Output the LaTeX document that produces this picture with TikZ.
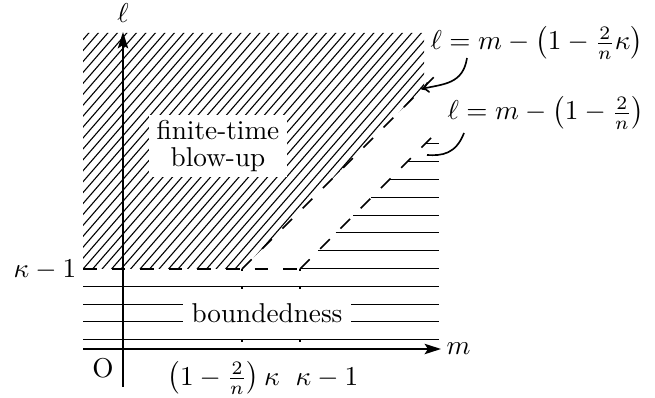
\documentclass[tikz,border=0pt]{standalone}
\usetikzlibrary{arrows.meta}
\begin{document}
\begin{tikzpicture}[x=0.367pt,y=-0.367pt,
  axisline/.style={line width=0.7pt,-{Stealth[length=6pt,width=3.8pt,inset=1.2pt]}},
  hatchline/.style={line width=0.4pt},
  hline/.style={line width=0.4pt},
  boundline/.style={line width=0.6pt,dash pattern=on 5pt off 5.5pt},
  guideline/.style={line width=0.7pt,dash pattern=on 0.7pt off 5.8pt},
  lblbox/.style={fill=white,inner xsep=3pt,inner ysep=2pt,align=center},
  txt/.style={inner sep=0pt},
  callout/.style={line width=0.6pt}]
\useasboundingbox (0,0) rectangle (655,398);
% key points
\coordinate (O0) at (123,349);
\coordinate (yb) at (123,387);
\coordinate (yt) at (123,32);
\coordinate (xb) at (83,349);
\coordinate (xt) at (441,349);
\coordinate (L) at (83,269);
\coordinate (A) at (242,269);
\coordinate (B) at (300,269);
\coordinate (Ae) at (438,73);
\coordinate (Be) at (438,131);
\coordinate (Ad) at (242,349);
\coordinate (Bd) at (300,349);
% hatched region
\begin{scope}
\clip (83,33) -- (424,33) -- (424,87) -- (A) -- (L) -- cycle;
\foreach \i in {-23,...,37}
  \draw[hatchline] (83+9.5*\i,280) -- ++(240,-276);
\end{scope}
% horizontal lines
\foreach \j in {-7,...,0}
  \draw[hline] ({300-17.8*\j},{268.5+17.8*\j}) -- (439,{268.5+17.8*\j});
\foreach \j in {1,...,4}
  \draw[hline] (83,{268.5+17.8*\j}) -- (439,{268.5+17.8*\j});
% boundaries
\draw[boundline] (L) -- (B);
\draw[boundline] (A) -- (Ae);
\draw[boundline] (B) -- (Be);
\draw[guideline] (A) -- (Ad);
\draw[guideline] (B) -- (Bd);
% region labels
\node[lblbox] (blow) at (218,146) {finite-time\\[-2pt]blow-up};
\node[lblbox] (bdd) at (267,313) {boundedness};
% axes
\draw[axisline] (yb) -- (yt);
\draw[axisline] (xb) -- (xt);
\node[txt,anchor=base] (ll) at (123,23) {$\ell$};
\node[txt,anchor=base west] (ml) at (446,355) {$m$};
\node[txt,anchor=base] (O) at (103,378) {O};
\node[txt,anchor=base west] (yl) at (13,278) {$\kappa-1$};
\node[txt,anchor=base west] (xl1) at (167,385) {$\bigl(1-\frac{2}{n}\bigr)\,\kappa$};
\node[txt,anchor=base west] (xl2) at (295,385) {$\kappa-1$};
% formulas
\node[txt,anchor=base west] (f1) at (430,50) {$\ell = m - \bigl(1-\frac{2}{n}\kappa\bigr)$};
\node[txt,anchor=base west] (f2) at (447,120) {$\ell = m - \bigl(1-\frac{2}{n}\bigr)$};
\coordinate (c1s) at (467,58);
\coordinate (c1e) at (421,89);
\coordinate (c2s) at (464,133);
\coordinate (c2e) at (427,155);
\draw[callout,-{To[length=3pt,width=4pt]}] (c1s) .. controls (463,84) and (444,84) .. (c1e);
\draw[callout] (c2s) .. controls (456,154) and (442,156) .. (c2e);
\end{tikzpicture}
\end{document}
